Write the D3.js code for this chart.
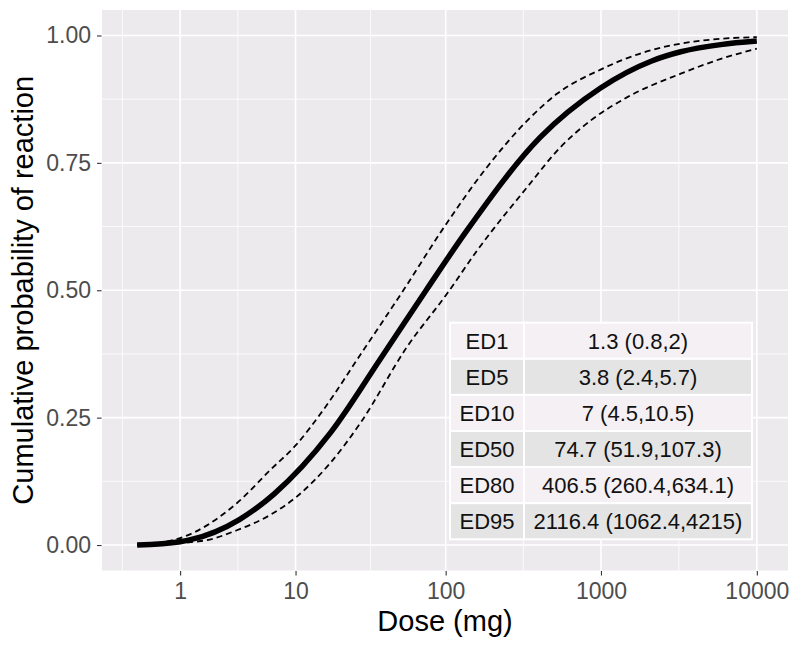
<!DOCTYPE html>
<html><head><meta charset="utf-8">
<script src="https://cdn.jsdelivr.net/npm/d3@7"></script>
<style>
body{margin:0;background:#fff}
svg{display:block}
text{font-family:"Liberation Sans",Arial,Helvetica,sans-serif}
</style>
</head><body>
<svg id="chart" width="800" height="646"></svg>
<script>
// ---- data ----
const xTicks = [1, 10, 100, 1000, 10000];
const yTicks = [0, 0.25, 0.5, 0.75, 1];

const fitDose = [0.06, 1, 1.3, 3.8, 7, 17.4, 37.5, 74.7, 137.7, 406.5, 994, 2116.4, 3250, 5870, 10000];
const fitProb = [0, 0.0065, 0.01, 0.05, 0.10, 0.22, 0.365, 0.50, 0.618, 0.80, 0.897, 0.95, 0.968, 0.982, 0.989];

const upperDose = [0.06, 1, 3.62, 6.56, 10.2, 15.56, 28.9, 53.1, 94.8, 185.4, 336, 524, 994, 1889, 3250, 5873, 10000];
const upperProb = [0, 0.0137, 0.082, 0.147, 0.198, 0.265, 0.382, 0.50, 0.618, 0.742, 0.833, 0.886, 0.933, 0.967, 0.984, 0.9935, 0.9967];

const lowerDose = [0.06, 1.81, 3.62, 6.56, 10.2, 17.37, 27.6, 56.1, 102.2, 159.8, 336, 550, 858, 1477, 3250, 5873, 10000];
const lowerProb = [0, 0.0084, 0.029, 0.059, 0.095, 0.161, 0.239, 0.389, 0.4935, 0.578, 0.7025, 0.781, 0.833, 0.879, 0.925, 0.954, 0.974];

const edLabels = ["ED1", "ED5", "ED10", "ED50", "ED80", "ED95"];
const edValues = ["1.3 (0.8,2)", "3.8 (2.4,5.7)", "7 (4.5,10.5)", "74.7 (51.9,107.3)", "406.5 (260.4,634.1)", "2116.4 (1062.4,4215)"];

const xTitle = "Dose (mg)";
const yTitle = "Cumulative probability of reaction";

// ---- layout ----
const svg = d3.select("#chart");
const P = {left: 102, right: 788, top: 10, bottom: 570.5};
const padX = (P.right - P.left) * 0.05 / 1.1;

const x = d3.scaleSymlog().constant(1).domain([0, 10000]).range([P.left + padX, P.right - padX]);
const y = d3.scaleLinear().domain([-0.05, 1.05]).range([P.bottom, P.top]);

// panel background
svg.append("rect").attr("x", P.left).attr("y", P.top)
  .attr("width", P.right - P.left).attr("height", P.bottom - P.top)
  .attr("fill", "#EDEAEE");

const grid = svg.append("g");
// minor x grid (midway between majors, in transformed space)
const xs = xTicks.map(x);
const minorX = [xs[0] - (xs[1] - xs[0]) / 2];
for (let i = 0; i < xs.length - 1; i++) minorX.push((xs[i] + xs[i + 1]) / 2);
minorX.push(xs[xs.length - 1] + (xs[xs.length - 1] - xs[xs.length - 2]) / 2);
grid.selectAll(".mx").data(minorX.filter(v => v > P.left && v < P.right)).join("line")
  .attr("x1", d => d).attr("x2", d => d).attr("y1", P.top).attr("y2", P.bottom)
  .attr("stroke", "#fff").attr("stroke-width", 0.8);
const minorY = [];
for (let i = 0; i < yTicks.length - 1; i++) minorY.push((yTicks[i] + yTicks[i + 1]) / 2);
grid.selectAll(".my").data(minorY).join("line")
  .attr("x1", P.left).attr("x2", P.right).attr("y1", d => y(d)).attr("y2", d => y(d))
  .attr("stroke", "#fff").attr("stroke-width", 0.8);
// major grid
grid.selectAll(".Mx").data(xTicks).join("line")
  .attr("x1", d => x(d)).attr("x2", d => x(d)).attr("y1", P.top).attr("y2", P.bottom)
  .attr("stroke", "#fff").attr("stroke-width", 1.6);
grid.selectAll(".My").data(yTicks).join("line")
  .attr("x1", P.left).attr("x2", P.right).attr("y1", d => y(d)).attr("y2", d => y(d))
  .attr("stroke", "#fff").attr("stroke-width", 1.6);

// curves
const line = d3.line().x(d => x(d[0])).y(d => y(d[1])).curve(d3.curveMonotoneX);
const fit = fitDose.map((d, i) => [d, fitProb[i]]);
const up = upperDose.map((d, i) => [d, upperProb[i]]);
const lo = lowerDose.map((d, i) => [d, lowerProb[i]]);

svg.append("path").attr("d", line(up)).attr("fill", "none").attr("stroke", "#000")
  .attr("stroke-width", 1.8).attr("stroke-dasharray", "6,4");
svg.append("path").attr("d", line(lo)).attr("fill", "none").attr("stroke", "#000")
  .attr("stroke-width", 1.8).attr("stroke-dasharray", "6,4");
svg.append("path").attr("d", line(fit)).attr("fill", "none").attr("stroke", "#000")
  .attr("stroke-width", 5.5);

// table annotation
const T = {left: 450, mid: 524, right: 752, top: 322.7, rowH: 36.1};
const tbl = svg.append("g");
edLabels.forEach((lab, i) => {
  const ry = T.top + i * T.rowH;
  const fill = i % 2 === 0 ? "#F4F0F4" : "#E4E4E4";
  tbl.append("rect").attr("x", T.left).attr("y", ry).attr("width", T.mid - T.left).attr("height", T.rowH)
    .attr("fill", fill).attr("stroke", "#fff").attr("stroke-width", 2);
  tbl.append("rect").attr("x", T.mid).attr("y", ry).attr("width", T.right - T.mid).attr("height", T.rowH)
    .attr("fill", fill).attr("stroke", "#fff").attr("stroke-width", 2);
  tbl.append("text").attr("x", (T.left + T.mid) / 2).attr("y", ry + T.rowH / 2 + 8)
    .attr("text-anchor", "middle").attr("font-size", 22).attr("fill", "#111").text(lab);
  tbl.append("text").attr("x", (T.mid + T.right) / 2).attr("y", ry + T.rowH / 2 + 8)
    .attr("text-anchor", "middle").attr("font-size", 22).attr("fill", "#111").text(edValues[i]);
});

// axes
const yAxis = svg.append("g").attr("transform", `translate(${P.left - 0.5},0)`)
  .call(d3.axisLeft(y).tickValues(yTicks).tickFormat(d3.format(".2f")).tickSize(4.5).tickPadding(6));
const xAxis = svg.append("g").attr("transform", `translate(0,${P.bottom + 0.5})`)
  .call(d3.axisBottom(x).tickValues(xTicks).tickFormat(d3.format("d")).tickSize(4.5).tickPadding(7));
[yAxis, xAxis].forEach(g => {
  g.select(".domain").remove();
  g.selectAll(".tick line").attr("stroke", "#333").attr("stroke-width", 1.1);
  g.selectAll(".tick text").attr("fill", "#4D4D4D").attr("font-size", 23)
    .attr("font-family", '"Liberation Sans",Arial,sans-serif');
});

// titles
svg.append("text").attr("x", (P.left + P.right) / 2).attr("y", 631)
  .attr("text-anchor", "middle").attr("font-size", 29).attr("fill", "#000").text(xTitle);
svg.append("text").attr("transform", `translate(33,${(P.top + P.bottom) / 2}) rotate(-90)`)
  .attr("text-anchor", "middle").attr("font-size", 29).attr("fill", "#000").text(yTitle);
</script>
</body></html>
